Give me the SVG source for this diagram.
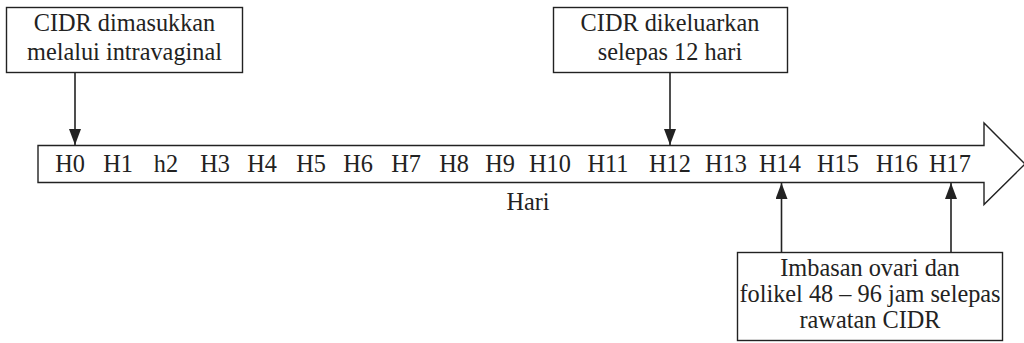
<svg xmlns="http://www.w3.org/2000/svg" width="1024" height="343" viewBox="0 0 1024 343">
<style>
text{font-family:"Liberation Serif","Times New Roman",serif;font-size:24.3px;fill:#222;text-anchor:middle}
.box{fill:#fff;stroke:#222;stroke-width:1.4}
.ln{stroke:#222;stroke-width:1.6;fill:none}
</style>
<defs>
<marker id="ah" viewBox="0 0 16 12" refX="16" refY="6" markerWidth="16" markerHeight="12" markerUnits="userSpaceOnUse" orient="auto">
<path d="M0,0 L16,6 L0,12 Z" fill="#222"/>
</marker>
</defs>
<g id="timeline">
<path class="box" d="M38,145.5 H984 V123 L1025,164 L984,204.5 V182.5 H38 Z"/>
<text x="70" y="172">H0</text>
<text x="118" y="172">H1</text>
<text x="166" y="172">h2</text>
<text x="215" y="172">H3</text>
<text x="262" y="172">H4</text>
<text x="311" y="172">H5</text>
<text x="358" y="172">H6</text>
<text x="406" y="172">H7</text>
<text x="454" y="172">H8</text>
<text x="500" y="172">H9</text>
<text x="550" y="172">H10</text>
<text x="608" y="172">H11</text>
<text x="670" y="172">H12</text>
<text x="726" y="172">H13</text>
<text x="780" y="172">H14</text>
<text x="838" y="172">H15</text>
<text x="897" y="172">H16</text>
<text x="950" y="172">H17</text>
<text x="528" y="210">Hari</text>
</g>
<g id="node-insert">
<rect class="box" x="6.5" y="7.5" width="236" height="65"/>
<text x="124.5" y="31">CIDR dimasukkan</text>
<text x="124.5" y="60">melalui intravaginal</text>
</g>
<g id="node-remove">
<rect class="box" x="553.5" y="7.5" width="234" height="65"/>
<text x="670" y="31">CIDR dikeluarkan</text>
<text x="670" y="60">selepas 12 hari</text>
</g>
<g id="node-scan">
<rect class="box" x="737.5" y="252.5" width="265" height="88"/>
<text x="870" y="276">Imbasan ovari dan</text>
<text x="870" y="302">folikel 48 – 96 jam selepas</text>
<text x="870" y="328">rawatan CIDR</text>
</g>
<g id="connectors">
<line class="ln" x1="75" y1="73" x2="75" y2="145" marker-end="url(#ah)"/>
<line class="ln" x1="670" y1="73" x2="670" y2="145" marker-end="url(#ah)"/>
<line class="ln" x1="781.5" y1="252" x2="781.5" y2="183" marker-end="url(#ah)"/>
<line class="ln" x1="951" y1="252" x2="951" y2="183" marker-end="url(#ah)"/>
</g>
</svg>
